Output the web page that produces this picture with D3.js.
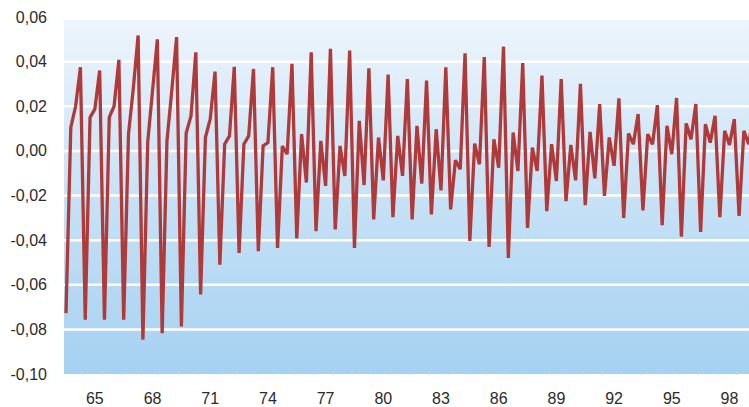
<!DOCTYPE html>
<html>
<head>
<meta charset="utf-8">
<script src="https://cdn.jsdelivr.net/npm/d3@7"></script>
<style>
  html, body { margin: 0; padding: 0; background: #ffffff; }
  svg { display: block; }
  text { font-family: "Liberation Sans", Arial, Helvetica, sans-serif; }
</style>
</head>
<body>
<svg id="chart" width="749" height="407"></svg>
<script>
// ---- data (quarterly values) ----
const years = [1964,1965,1966,1967,1968,1969,1970,1971,1972,1973,1974,1975,1976,1977,1978,1979,
               1980,1981,1982,1983,1984,1985,1986,1987,1988,1989,1990,1991,1992,1993,1994,1995,
               1996,1997,1998,1999];
const q1 = [-0.0727,-0.0757,-0.0757,-0.0757,-0.0846,-0.0817,-0.0787,-0.0644,-0.0510,-0.0457,-0.0450,-0.0435,
            -0.0392,-0.0360,-0.0352,-0.0435,-0.0307,-0.0297,-0.0307,-0.0285,-0.0262,-0.0404,-0.0431,-0.0480,
            -0.0345,-0.0270,-0.0225,-0.0243,-0.0202,-0.0300,-0.0267,-0.0333,-0.0385,-0.0363,-0.0297,-0.0292];
const q2 = [0.0105,0.0150,0.0150,0.0075,0.0040,0.0045,0.0080,0.0060,0.0030,0.0030,0.0022,0.0022,
            0.0075,0.0045,0.0022,0.0135,0.0060,0.0067,0.0112,0.0097,-0.0042,0.0033,0.0052,0.0082,
            0.0015,0.0030,0.0027,0.0085,0.0060,0.0078,0.0075,0.0112,0.0123,0.0120,0.0090,0.0090];
const q3 = [0.0200,0.0187,0.0200,0.0280,0.0270,0.0270,0.0157,0.0143,0.0067,0.0067,0.0037,-0.0015,
            -0.0142,-0.0157,-0.0112,-0.0153,-0.0132,-0.0112,-0.0147,-0.0177,-0.0082,-0.0060,-0.0075,-0.0090,
            -0.0090,-0.0135,-0.0132,-0.0123,-0.0067,0.0030,0.0030,-0.0015,0.0052,0.0037,0.0027,0.0030];
const q4 = [0.0375,0.0360,0.0408,0.0517,0.0500,0.0510,0.0442,0.0355,0.0377,0.0367,0.0375,0.0390,
            0.0442,0.0457,0.0450,0.0370,0.0342,0.0322,0.0315,0.0375,0.0437,0.0420,0.0467,0.0394,
            0.0337,0.0322,0.0300,0.0210,0.0235,0.0165,0.0205,0.0237,0.0210,0.0157,0.0142,0.0160];
const yTicks = [0.06,0.04,0.02,0.00,-0.02,-0.04,-0.06,-0.08,-0.10];
const xTickYears = [1965,1968,1971,1974,1977,1980,1983,1986,1989,1992,1995,1998];

// ---- build series ----
const series = [];
years.forEach((yr, i) => {
  [q1[i], q2[i], q3[i], q4[i]].forEach((v, q) => series.push({ t: yr + q / 4, v: v }));
});

const svg = d3.select("#chart");
const x = d3.scaleLinear().domain([1964, 1999.5]).range([66, 748.7]);
const y = d3.scaleLinear().domain([-0.10, 0.06]).range([374, 17]);

// background gradient
const defs = svg.append("defs");
const grad = defs.append("linearGradient").attr("id", "bg")
  .attr("x1", 0).attr("y1", 0).attr("x2", 0).attr("y2", 1);
grad.append("stop").attr("offset", "0%").attr("stop-color", "#edf5fc");
grad.append("stop").attr("offset", "35%").attr("stop-color", "#d2e7f7");
grad.append("stop").attr("offset", "70%").attr("stop-color", "#b9dbf4");
grad.append("stop").attr("offset", "100%").attr("stop-color", "#a6d1f1");
defs.append("clipPath").attr("id", "clip").append("rect")
  .attr("x", 64).attr("y", 0).attr("width", 749 - 64).attr("height", 407);

svg.append("rect")
  .attr("x", 64).attr("y", y(0.06) + 3)
  .attr("width", 749 - 64).attr("height", y(-0.10) - y(0.06) - 3)
  .attr("fill", "url(#bg)");

// white gridlines
svg.append("g").selectAll("line")
  .data(yTicks.filter(d => d < 0.05 && d > -0.09))
  .join("line")
  .attr("x1", 64).attr("x2", 749)
  .attr("y1", d => y(d)).attr("y2", d => y(d))
  .attr("stroke", "#ffffff").attr("stroke-width", 2.5);

// faint year ticks at bottom
svg.append("g").selectAll("line")
  .data(years)
  .join("line")
  .attr("x1", d => x(d + 0.875)).attr("x2", d => x(d + 0.875))
  .attr("y1", y(-0.10) - 3).attr("y2", y(-0.10) + 1)
  .attr("stroke", "#c8d3dc").attr("stroke-width", 1);

// y labels
svg.append("g").selectAll("text")
  .data(yTicks)
  .join("text")
  .attr("x", 47).attr("y", d => y(d))
  .attr("dy", "0.35em")
  .attr("text-anchor", "end")
  .attr("font-size", 16)
  .attr("fill", "#2b2b2b")
  .text(d => d3.format(".2f")(d).replace(".", ",").replace("−", "-"));

// x labels
svg.append("g").selectAll("text")
  .data(xTickYears)
  .join("text")
  .attr("x", d => x(d + 0.5)).attr("y", 404)
  .attr("text-anchor", "middle")
  .attr("font-size", 16)
  .attr("fill", "#2b2b2b")
  .text(d => String(d).slice(2));

// line
const line = d3.line().x(d => x(d.t)).y(d => y(d.v));
svg.append("path")
  .datum(series)
  .attr("clip-path", "url(#clip)")
  .attr("d", line)
  .attr("fill", "none")
  .attr("stroke", "#b03939")
  .attr("stroke-width", 3.3)
  .attr("stroke-linejoin", "miter")
  .attr("stroke-miterlimit", 3);
</script>
</body>
</html>
